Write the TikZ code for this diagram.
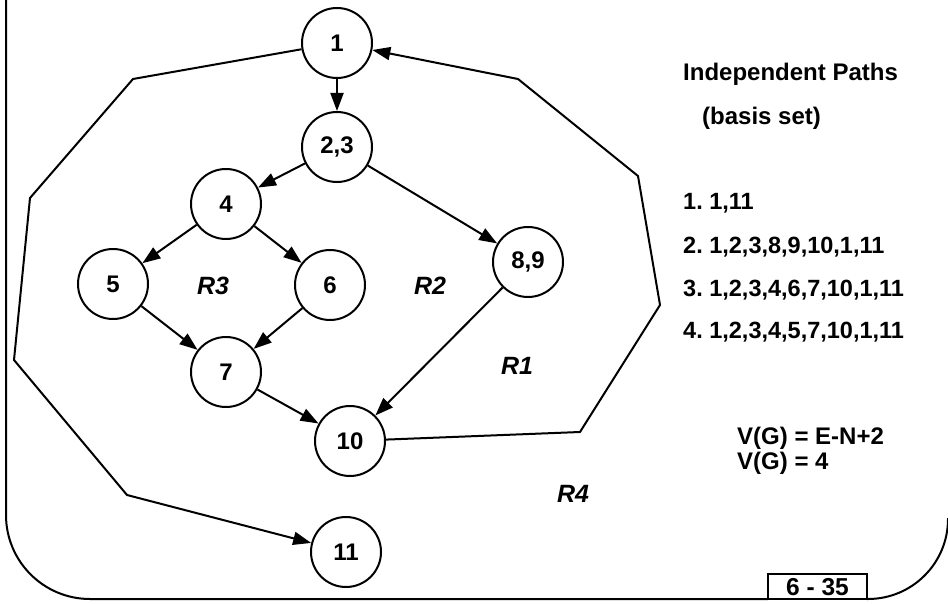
\documentclass[tikz,border=0pt]{standalone}
\usepackage{fontspec}
\setmainfont{Liberation Sans}
\usetikzlibrary{arrows.meta}
\frenchspacing
\begin{document}
\begin{tikzpicture}[x=1pt,y=-1pt,
 vert/.style={circle,draw,line width=2pt,minimum size=70pt,inner sep=0pt,font=\fontsize{24}{29}\selectfont\bfseries},
 edge/.style={line width=2pt,-{Triangle[length=18pt,width=13pt]}},
 poly/.style={line width=2pt},
 rlab/.style={font=\fontsize{25}{30}\selectfont\bfseries\itshape},
 txt/.style={font=\fontsize{23.5}{28}\selectfont\bfseries,anchor=west,inner sep=0pt},
 ttl/.style={font=\fontsize{24}{29}\selectfont\bfseries,anchor=west,inner sep=0pt}]
\path[use as bounding box,clip] (0,0) rectangle (948,604);

% frame
\draw[poly,rounded corners=84pt] (6,-5) -- (6,599) -- (768,599);
\draw[poly,rounded corners=80pt] (867,599) -- (948,599) -- (948,518);
\draw[poly] (768,599) rectangle (867,574);
\node[font=\fontsize{24.5}{29}\selectfont\bfseries] (pg) at (817.5,587) {6 - 35};

% nodes
\node[vert] (n1) at (337,43) {1};
\node[vert] (n23) at (337,147) {2,3};
\node[vert] (n4) at (226,204) {4};
\node[vert] (n5) at (113,284) {5};
\node[vert] (n6) at (330,285) {6};
\node[vert] (n7) at (226,372) {7};
\node[vert] (n89) at (528,262) {8,9};
\node[vert] (n10) at (350,441) {10};
\node[vert] (n11) at (346,552) {11};

% edges
\draw[edge] (n1) -- (n23);
\draw[edge] (n23) -- (n4);
\draw[edge] (n23) -- (n89);
\draw[edge] (n4) -- (n5);
\draw[edge] (n4) -- (n6);
\draw[edge] (n5) -- (n7);
\draw[edge] (n6) -- (n7);
\draw[edge] (n7) -- (n10);
\draw[edge] (n89) -- (n10);

% back edge 10 -> 1
\coordinate (r1) at (580,432);
\coordinate (r2) at (660,305);
\coordinate (r3) at (638,176);
\coordinate (r4) at (518,79);
\draw[edge] (n10) -- (r1) -- (r2) -- (r3) -- (r4) -- (n1);

% edge 1 -> 11
\coordinate (l1) at (133,79);
\coordinate (l2) at (30,198);
\coordinate (l3) at (14,360);
\coordinate (l4) at (127,495);
\draw[edge] (n1) -- (l1) -- (l2) -- (l3) -- (l4) -- (n11);

% region labels
\node[rlab] (R3) at (213,286) {R3};
\node[rlab] (R2) at (430,286) {R2};
\node[rlab] (R1) at (517,366) {R1};
\node[rlab] (R4) at (573,494) {R4};

% text
\node[ttl] (t1) at (683,74) {Independent Paths};
\node[ttl] (t2) at (702,118) {(basis set)};
\node[txt] (p1) at (683,203) {1. 1,11};
\node[txt] (p2) at (683,247) {2. 1,2,3,8,9,10,1,11};
\node[txt] (p3) at (683,290) {3. 1,2,3,4,6,7,10,1,11};
\node[txt] (p4) at (683,332) {4. 1,2,3,4,5,7,10,1,11};
\node[txt,font=\fontsize{24}{29}\selectfont\bfseries] (v1) at (737,438) {V(G) = E-N+2};
\node[txt,font=\fontsize{24}{29}\selectfont\bfseries] (v2) at (737,463) {V(G) = 4};
\end{tikzpicture}
\end{document}
